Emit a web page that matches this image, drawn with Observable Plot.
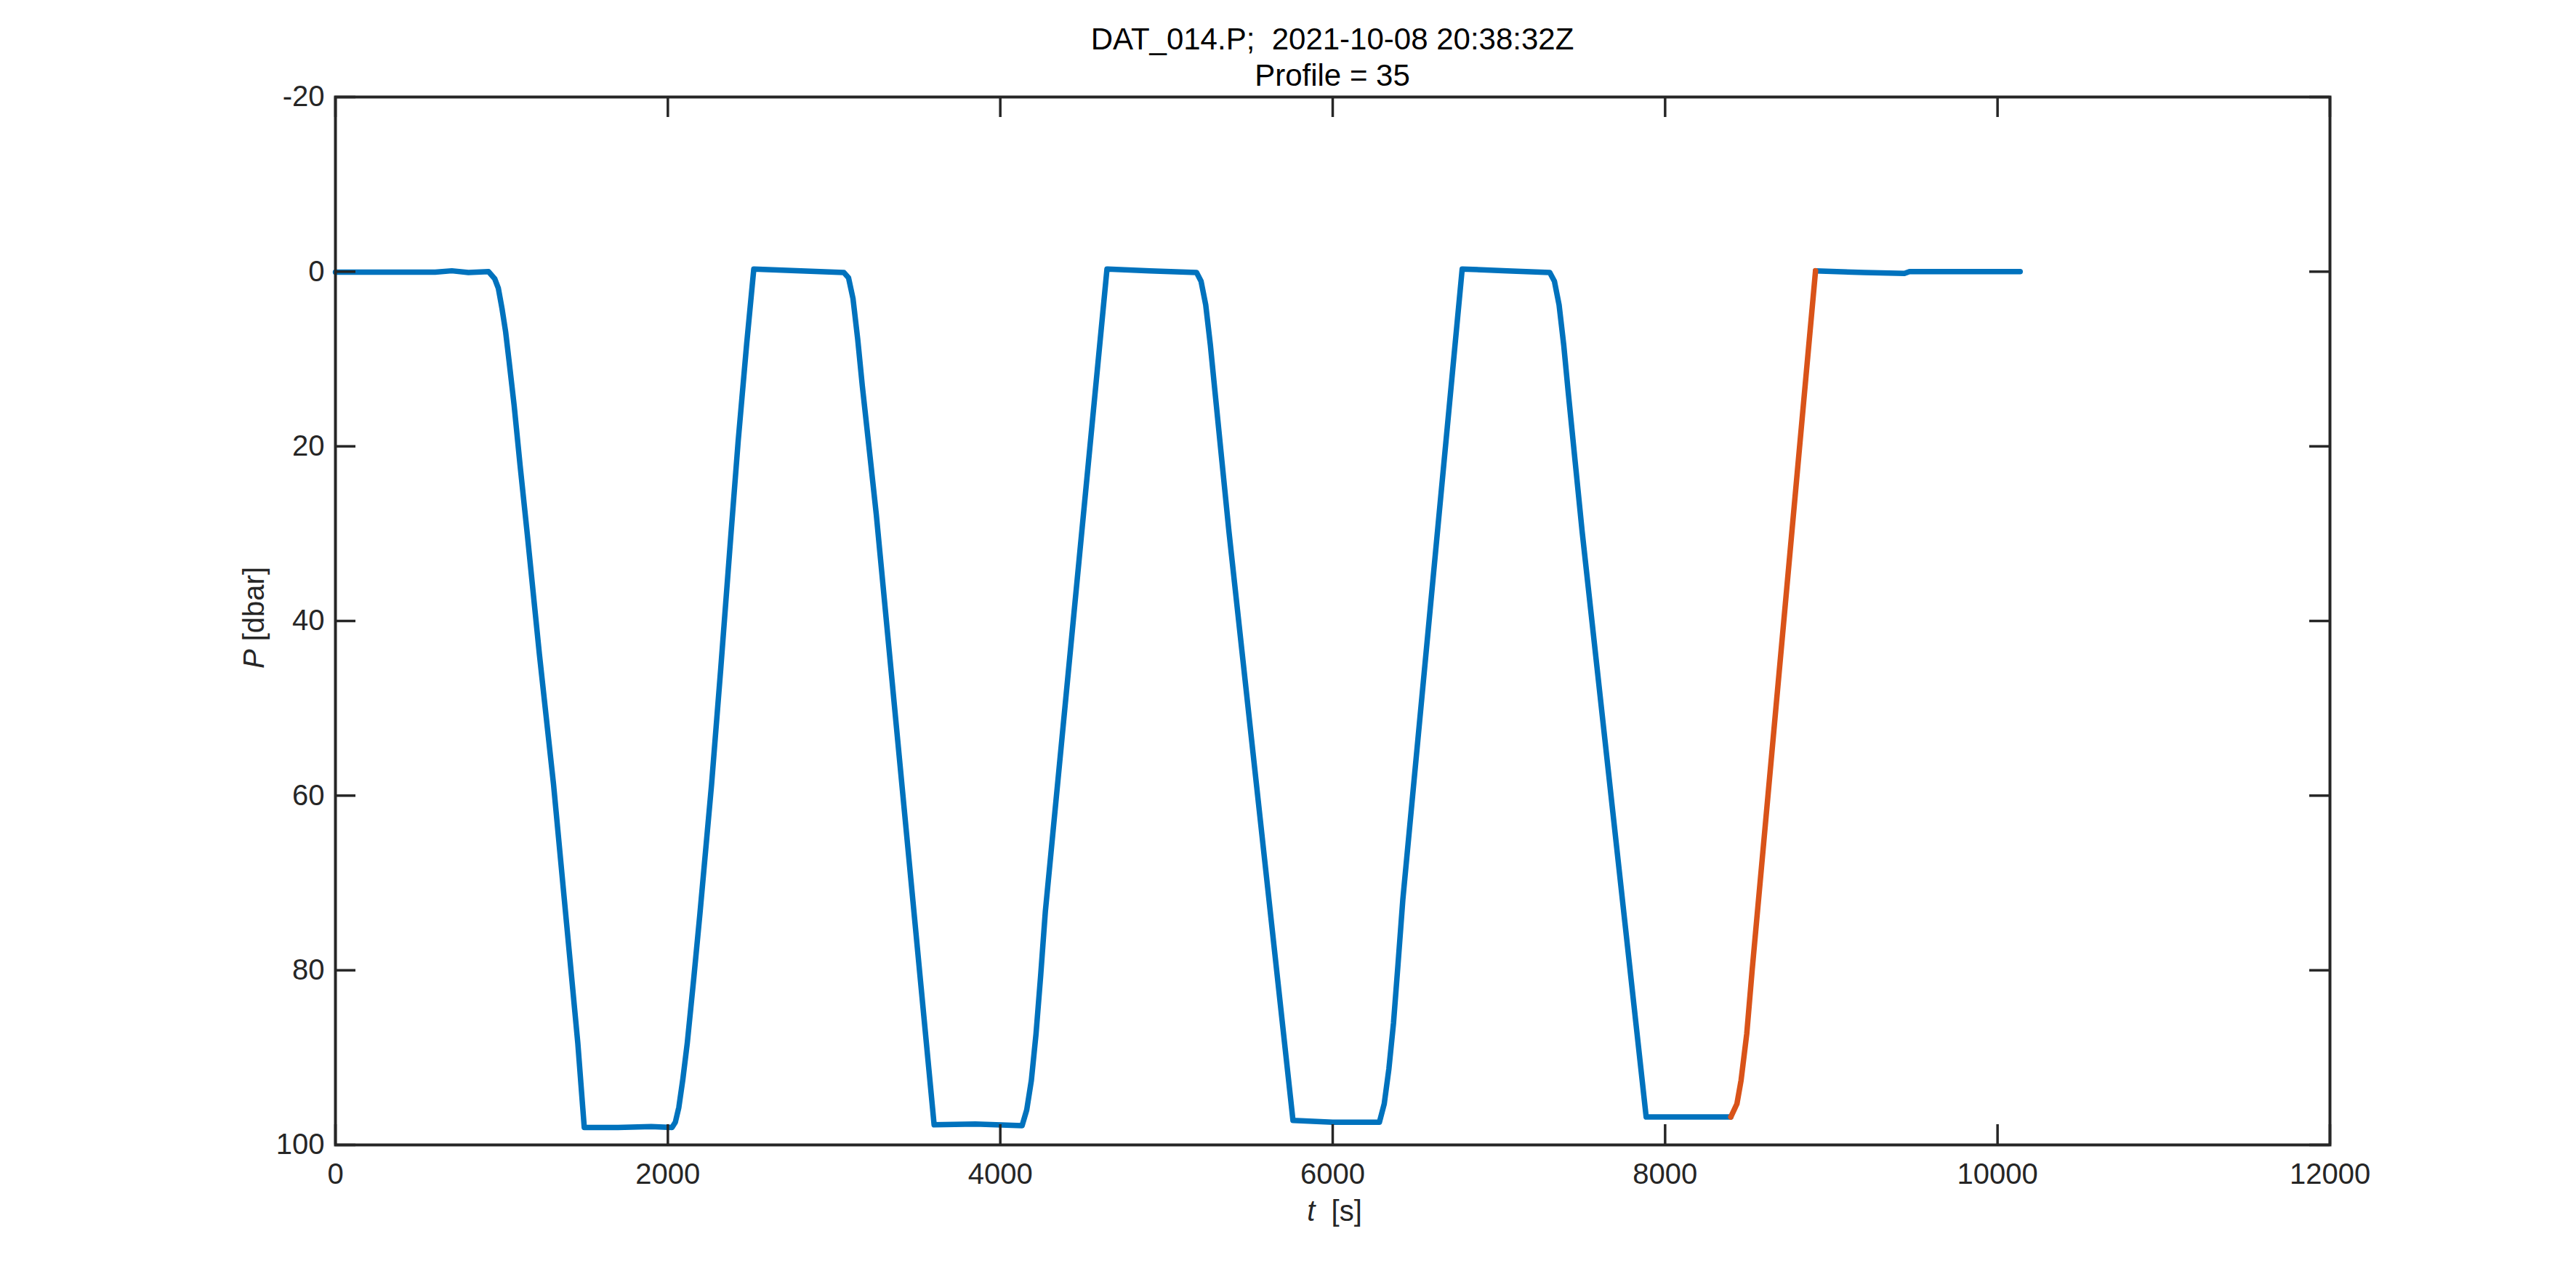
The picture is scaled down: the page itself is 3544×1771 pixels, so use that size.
<!DOCTYPE html>
<html>
<head>
<meta charset="utf-8">
<script src="https://cdn.jsdelivr.net/npm/d3@7"></script>
<script src="https://cdn.jsdelivr.net/npm/@observablehq/plot@0.6"></script>
<style>
  html, body { margin: 0; padding: 0; background: #ffffff; }
  #chart svg { display: block; }
</style>
</head>
<body>
<div id="chart"></div>
<script>
// ---- Data ----
const titleLines = ["DAT_014.P;  2021-10-08 20:38:32Z", "Profile = 35"];

const tBlue1 = [
  0, 300, 600, 700, 800, 921, 958, 980, 1002, 1024, 1045, 1075, 1111, 1155, 1227, 1312, 1385, 1458, 1497,
  1700, 1900, 2025, 2045, 2066, 2090, 2117, 2156, 2193, 2263, 2318, 2379, 2423, 2474, 2517,
  2800, 3059, 3087, 3114, 3142, 3170, 3212, 3254, 3602,
  3850, 4131, 4159, 4187, 4215, 4243, 4271, 4642,
  4900, 5181, 5208, 5236, 5264, 5292, 5334, 5376, 5761,
  6000, 6281, 6310, 6338, 6366, 6393, 6422, 6779,
  7050, 7306, 7334, 7362, 7390, 7417, 7459, 7501, 7886,
  8150, 8395
];
const pBlue1 = [
  0.05, 0.05, 0.05, -0.1, 0.1, 0.0, 0.8, 1.9, 4.2, 6.9, 10.3, 15.3, 22.2, 30.2, 43.8, 58.7, 73.5, 88.3, 98.0,
  98.0, 97.9, 98.0, 97.4, 95.7, 92.5, 88.3, 80.9, 73.5, 58.7, 45.5, 30.2, 19.4, 8.3, -0.3,
  -0.1, 0.1, 0.7, 3.1, 7.7, 13.1, 20.4, 27.8, 97.7,
  97.6, 97.8, 96.0, 92.6, 87.3, 80.6, 73.3, -0.3,
  -0.1, 0.1, 1.1, 3.8, 8.4, 13.8, 21.8, 29.8, 97.2,
  97.4, 97.4, 95.3, 91.3, 86.0, 79.3, 71.9, -0.3,
  -0.1, 0.1, 1.1, 3.8, 8.4, 13.8, 21.8, 29.8, 96.8,
  96.8, 96.8
];

const tOrange = [8395, 8432, 8457, 8491, 8524, 8905];
const pOrange = [96.8, 95.3, 92.6, 87.3, 79.9, -0.1];

const tBlue2 = [8905, 9200, 9440, 9470, 10136];
const pBlue2 = [-0.1, 0.1, 0.2, 0.0, 0.0];

const xTicks = [0, 2000, 4000, 6000, 8000, 10000, 12000];
const yTicks = [-20, 0, 20, 40, 60, 80, 100];

// ---- Layout / style ----
const W = 3544, H = 1771;
const mL = 461, mR = 339, mT = 133, mB = 196;
const plotW = W - mL - mR, plotH = H - mT - mB;
const axisColor = "#262626";
const blue = "#0072BD", orange = "#D95319";
const font = "'Liberation Sans', Arial, Helvetica, sans-serif";
const tickLen = 28;
const lineW = 7.5;
const axisW = 4;

const rows = (ts, ps) => ts.map((t, i) => ({t, p: ps[i]}));

const chart = Plot.plot({
  width: W,
  height: H,
  marginLeft: mL,
  marginRight: mR,
  marginTop: mT,
  marginBottom: mB,
  style: {fontFamily: font, fontSize: "40px", background: "#ffffff", color: axisColor},
  x: {domain: [0, 12000], label: null},
  y: {domain: [-20, 100], reverse: true, label: null},
  marks: [
    Plot.line(rows(tBlue1, pBlue1), {x: "t", y: "p", stroke: blue, strokeWidth: lineW}),
    Plot.line(rows(tBlue2, pBlue2), {x: "t", y: "p", stroke: blue, strokeWidth: lineW}),
    Plot.line(rows(tOrange, pOrange), {x: "t", y: "p", stroke: orange, strokeWidth: lineW}),
    Plot.frame({stroke: axisColor, strokeWidth: axisW}),
    Plot.tickX(xTicks, {x: d => d, insetTop: plotH - tickLen, stroke: axisColor, strokeWidth: 3.5}),
    Plot.tickX(xTicks, {x: d => d, insetBottom: plotH - tickLen, stroke: axisColor, strokeWidth: 3.5}),
    Plot.tickY(yTicks, {y: d => d, insetRight: plotW - tickLen, stroke: axisColor, strokeWidth: 3.5}),
    Plot.tickY(yTicks, {y: d => d, insetLeft: plotW - tickLen, stroke: axisColor, strokeWidth: 3.5}),
    Plot.axisX(xTicks, {anchor: "bottom", tickSize: 0, tickPadding: 25, fontSize: 40,
      tickFormat: d => String(d), label: null, color: axisColor}),
    Plot.axisY(yTicks, {anchor: "left", tickSize: 0, tickPadding: 15, fontSize: 40,
      tickFormat: d => String(d), label: null, color: axisColor})
  ]
});

document.getElementById("chart").appendChild(chart);

// ---- Titles and axis labels (real text inside the SVG) ----
const svg = d3.select(chart);
const xs = chart.scale("x"), ys = chart.scale("y");
const cx = (xs.apply(0) + xs.apply(12000)) / 2;
const cy = (ys.apply(-20) + ys.apply(100)) / 2;

const tg = svg.append("g").attr("font-family", font).attr("fill", "#000000").attr("text-anchor", "middle");
tg.append("text").attr("x", cx).attr("y", 68).attr("font-size", 42).text(titleLines[0])
  .style("white-space", "pre");
tg.append("text").attr("x", cx).attr("y", 118).attr("font-size", 42).text(titleLines[1]);

const xl = svg.append("text")
  .attr("x", cx + 3).attr("y", 1680)
  .attr("text-anchor", "middle").attr("font-family", font).attr("font-size", 40)
  .attr("fill", axisColor).style("white-space", "pre");
xl.append("tspan").attr("font-style", "italic").text("t");
xl.append("tspan").text("\u00A0\u00A0[s]");

const yl = svg.append("text")
  .attr("transform", `translate(363,${cy - 4}) rotate(-90)`)
  .attr("text-anchor", "middle").attr("font-family", font).attr("font-size", 40)
  .attr("fill", axisColor).style("white-space", "pre");
yl.append("tspan").attr("font-style", "italic").text("P");
yl.append("tspan").text("\u00A0[dbar]");
</script>
</body>
</html>
